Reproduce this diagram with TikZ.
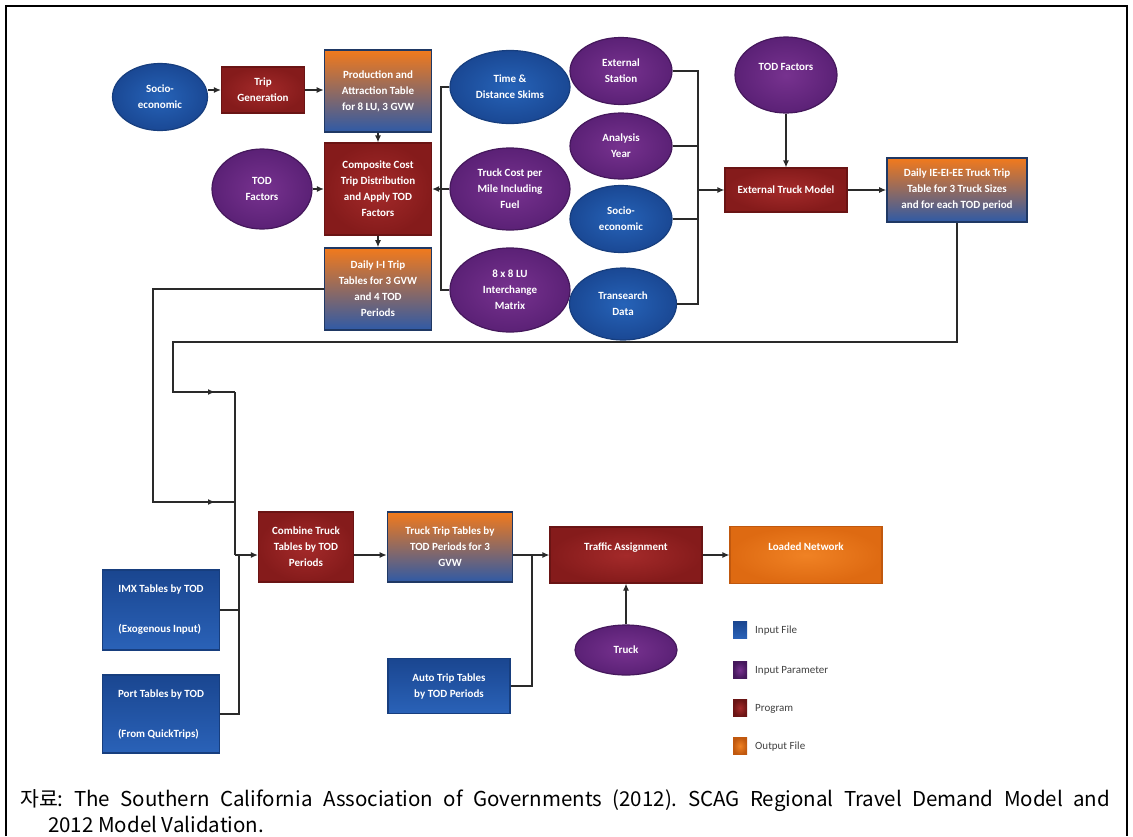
\documentclass[tikz,border=0pt]{standalone}
\usepackage{fontspec}
\setmainfont{Carlito}
\newfontfamily\capfont{Noto Sans CJK KR}
\usetikzlibrary{shapes.geometric,arrows.meta}

\definecolor{blueIn}{HTML}{2663B8}
\definecolor{blueOut}{HTML}{1A4894}
\definecolor{blueEdge}{HTML}{173E7E}
\definecolor{purIn}{HTML}{77328F}
\definecolor{purOut}{HTML}{5B2176}
\definecolor{purEdge}{HTML}{45185C}
\definecolor{redIn}{HTML}{A42A2A}
\definecolor{redOut}{HTML}{851B1B}
\definecolor{redEdge}{HTML}{6A1414}
\definecolor{outTop}{HTML}{F27A1C}
\definecolor{outBot}{HTML}{2F5AA6}
\definecolor{outEdge}{HTML}{1F3864}
\definecolor{orgIn}{HTML}{F08224}
\definecolor{orgOut}{HTML}{DE6A12}
\definecolor{orgEdge}{HTML}{C0580E}
\definecolor{fileTop}{HTML}{1A4690}
\definecolor{fileBot}{HTML}{2A62B8}
\definecolor{lineC}{HTML}{2A2A2A}
\definecolor{legText}{HTML}{404040}

\frenchspacing
\begin{document}
\begin{tikzpicture}[x=1pt,y=-1pt,
  base/.style={align=center,text=white,inner sep=0pt,
    font=\bfseries\fontsize{11}{16}\selectfont},
  infile/.style={base,ellipse,inner color=blueIn,outer color=blueOut,draw=blueEdge,line width=1.2pt},
  param/.style={base,ellipse,inner color=purIn,outer color=purOut,draw=purEdge,line width=1.2pt},
  prog/.style={base,rectangle,inner color=redIn,outer color=redOut,draw=redEdge,line width=1.2pt},
  outf/.style={base,rectangle,top color=outTop,bottom color=outBot,draw=outEdge,line width=1.6pt},
  loaded/.style={base,rectangle,inner color=orgIn,outer color=orgOut,draw=orgEdge,line width=1.2pt},
  inbox/.style={base,rectangle,align=left,top color=fileTop,bottom color=fileBot,draw=blueEdge,line width=1.2pt},
  legsq/.style={rectangle,minimum width=14pt,minimum height=17pt,inner sep=0pt},
  legtx/.style={anchor=west,text=legText,inner sep=0pt,font=\fontsize{11}{12}\selectfont},
  conn/.style={line width=1.2pt,draw=lineC},
  arr/.style={conn,-{Latex[length=7pt,width=6pt]}}
]
\useasboundingbox (0,0) rectangle (1133,836);

% frame
\draw[line width=1.4pt] (6,836) -- (6,6) -- (1127,6) -- (1127,836);

% ---- upper part: internal and external truck models
\node[infile,minimum width=95pt,minimum height=67pt] (socio) at (160,97) {Socio-\\economic};
\node[prog,minimum width=83pt,minimum height=46pt] (trip) at (263,90) {Trip\\Generation};
\node[outf,minimum width=107pt,minimum height=82pt] (prod) at (378,91) {Production and\\Attraction Table\\for 8 LU, 3 GVW};
\node[prog,minimum width=107pt,minimum height=92pt] (comp) at (378,189) {Composite Cost\\Trip Distribution\\and Apply TOD\\Factors};
\node[param,minimum width=100pt,minimum height=80pt] (todl) at (262,189) {TOD\\Factors};
\node[outf,minimum width=107pt,minimum height=82pt] (dII) at (378,289) {Daily I-I Trip\\Tables for 3 GVW\\and 4 TOD\\Periods};

\node[infile,minimum width=120pt,minimum height=73pt] (td) at (510,87) {Time \&\\Distance Skims};
\node[param,minimum width=120pt,minimum height=82pt] (tc) at (510,189) {Truck Cost per\\Mile Including\\Fuel};
\node[param,minimum width=120pt,minimum height=84pt] (lu) at (510,290) {8 x 8 LU\\Interchange\\Matrix};

\node[param,minimum width=102pt,minimum height=67pt] (es) at (621,71) {External\\Station};
\node[param,minimum width=102pt,minimum height=66pt] (ay) at (621,146) {Analysis\\Year};
\node[infile,minimum width=102pt,minimum height=67pt] (s2) at (621,219) {Socio-\\economic};
\node[infile,minimum width=107pt,minimum height=72pt] (tr) at (623,304) {Transearch\\Data};

\node[param,minimum width=102pt,minimum height=76pt] (todr) at (786,75) {TOD Factors\\\mbox{}};
\node[prog,minimum width=122pt,minimum height=44pt] (etm) at (786,190) {External Truck Model};
\node[outf,minimum width=140pt,minimum height=64pt] (dIE) at (957,190) {Daily IE-EI-EE Truck Trip\\Table for 3 Truck Sizes\\and for each TOD period};

% ---- lower part: combination and assignment
\node[prog,minimum width=95pt,minimum height=70pt] (comb) at (306,547) {Combine Truck\\Tables by TOD\\Periods};
\node[outf,minimum width=125pt,minimum height=70pt] (ttt) at (450,547) {Truck Trip Tables by\\TOD Periods for 3\\GVW};
\node[prog,minimum width=152pt,minimum height=56pt] (ta) at (626,555) {Traffic Assignment\\\mbox{}};
\node[loaded,minimum width=152pt,minimum height=57pt] (ln) at (806,555) {Loaded Network\\\mbox{}};
\node[param,minimum width=102pt,minimum height=50pt] (truck) at (626,650) {Truck};
\node[inbox,minimum width=117pt,minimum height=80pt] (imx) at (161,610) {IMX Tables by TOD\\[24pt](Exogenous Input)};
\node[inbox,minimum width=117pt,minimum height=78pt] (port) at (161,714) {Port Tables by TOD\\[24pt](From QuickTrips)};
\node[inbox,align=center,minimum width=122pt,minimum height=55pt] (auto) at (449,686) {Auto Trip Tables\\by TOD Periods};

% ---- legend
\node[legsq,top color=fileTop,bottom color=fileBot] (lg1) at (740,630) {};
\node[legsq,inner color=purIn,outer color=purEdge] (lg2) at (740,670) {};
\node[legsq,inner color=redIn,outer color=redEdge] (lg3) at (740,708) {};
\node[legsq,inner color=orgIn,outer color=orgEdge] (lg4) at (740,746) {};
\node[legtx] (lt1) at (755,631) {Input File};
\node[legtx] (lt2) at (755,671) {Input Parameter};
\node[legtx] (lt3) at (755,709) {Program};
\node[legtx] (lt4) at (755,747) {Output File};

% ---- junction points of the connector buses
\coordinate (lbus) at (441,189);
\coordinate (rbus) at (698,190);
\coordinate (c1) at (173,342);
\coordinate (b1top) at (235,392);
\coordinate (a1) at (215,392);
\coordinate (c2) at (153,502);
\coordinate (b1mid) at (235,502);
\coordinate (a2) at (215,502);
\coordinate (b1j) at (235,555);
\coordinate (b2j) at (239,555);
\coordinate (aj) at (532,555);

% ---- connectors, upper part
\draw[arr] (socio.east |- trip.west) -- (trip.west);
\draw[arr] (trip.east) -- (prod.west |- trip.east);
\draw[arr] (prod.south) -- (comp.north);
\draw[arr] (todl.east) -- (comp.west |- todl.east);
\draw[arr] (comp.south) -- (dII.north);
\draw[conn] (td.west) -| (lbus) |- (lu.west);
\draw[conn] (tc.west) -- (lbus);
\draw[arr] (lbus) -- (comp.east |- lbus);
\draw[conn] (es.east) -| (rbus) |- (tr.east);
\draw[conn] (ay.east) -- (ay.east -| rbus);
\draw[conn] (s2.east) -- (s2.east -| rbus);
\draw[arr] (rbus) -- (etm.west);
\draw[arr] (todr.south) -- (etm.north);
\draw[arr] (etm.east) -- (dIE.west);

% ---- feedback of the trip tables into the combination step
\draw[conn] (dIE.south) |- (c1) |- (b1top);
\draw[arr] (c1 |- a1) -- (a1);
\draw[conn] (dII.west) -| (c2) -- (b1mid);
\draw[arr] (c2) -- (a2);
\draw[conn] (b1top) -- (b1j);
\draw[arr] (b1j) -- (comb.west |- b1j);
\draw[conn] (b2j) |- (port.east);
\draw[conn] (imx.east) -- (imx.east -| b2j);

% ---- connectors, lower part
\draw[arr] (comb.east |- b1j) -- (ttt.west |- b1j);
\draw[arr] (ttt.east |- ta.west) -- (ta.west);
\draw[conn] (auto.east) -| (aj);
\draw[arr] (ta.east) -- (ln.west);
\draw[arr] (truck.north) -- (ta.south);

% ---- source note
\node[anchor=base west,inner sep=0pt,font=\capfont\fontsize{20.5}{26}\selectfont,text=black] (cap1) at (20,806)
  {\makebox[1090pt][s]{자료: The Southern California Association of Governments (2012). SCAG Regional Travel Demand Model and}};
\node[anchor=base west,inner sep=0pt,font=\capfont\fontsize{20.5}{26}\selectfont,text=black] (cap2) at (48,832)
  {2012 Model Validation.};
\end{tikzpicture}
\end{document}
